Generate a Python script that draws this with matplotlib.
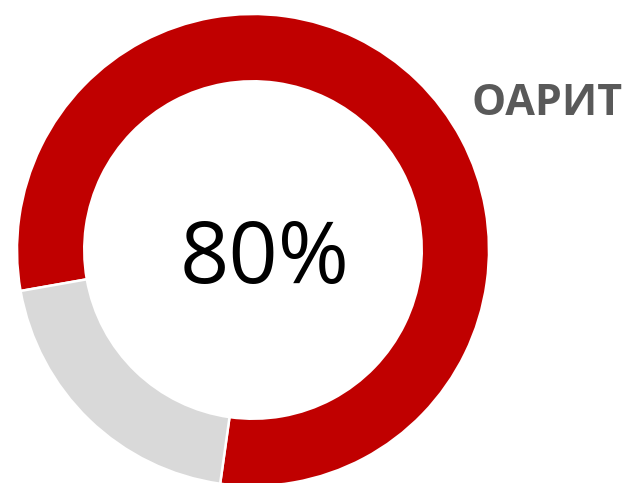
import matplotlib
matplotlib.use("Agg")
import matplotlib.pyplot as plt

# doughnut: share achieved vs remainder
labels = ["ОАРИТ", "rest"]
values = [80, 20]
colors = ["#C00000", "#D9D9D9"]
center_label = "80%"
title = "ОАРИТ"

W, H = 634, 483
fig = plt.figure(figsize=(W / 100, H / 100), dpi=100)

# ring centre (253, 250) px from top-left, outer radius 236 px
cx, cy, r = 253, 250, 236
ax = fig.add_axes([(cx - r) / W, (H - cy - r) / H, 2 * r / W, 2 * r / H])
ax.pie(values, colors=colors, startangle=190, counterclock=False,
       radius=1.0, wedgeprops=dict(width=0.285, edgecolor="white", linewidth=1.8))
ax.set_xlim(-1, 1)
ax.set_ylim(-1, 1)
ax.axis("off")

fig.text(265 / W, (H - 283) / H, center_label, ha="center", va="baseline",
         fontsize=62, family="Open Sans", color="black")
fig.text(471 / W, (H - 115) / H, title, ha="left", va="baseline",
         fontsize=31, family="Open Sans", fontweight="bold", color="#595959")

fig.savefig("out.png", dpi=100)
